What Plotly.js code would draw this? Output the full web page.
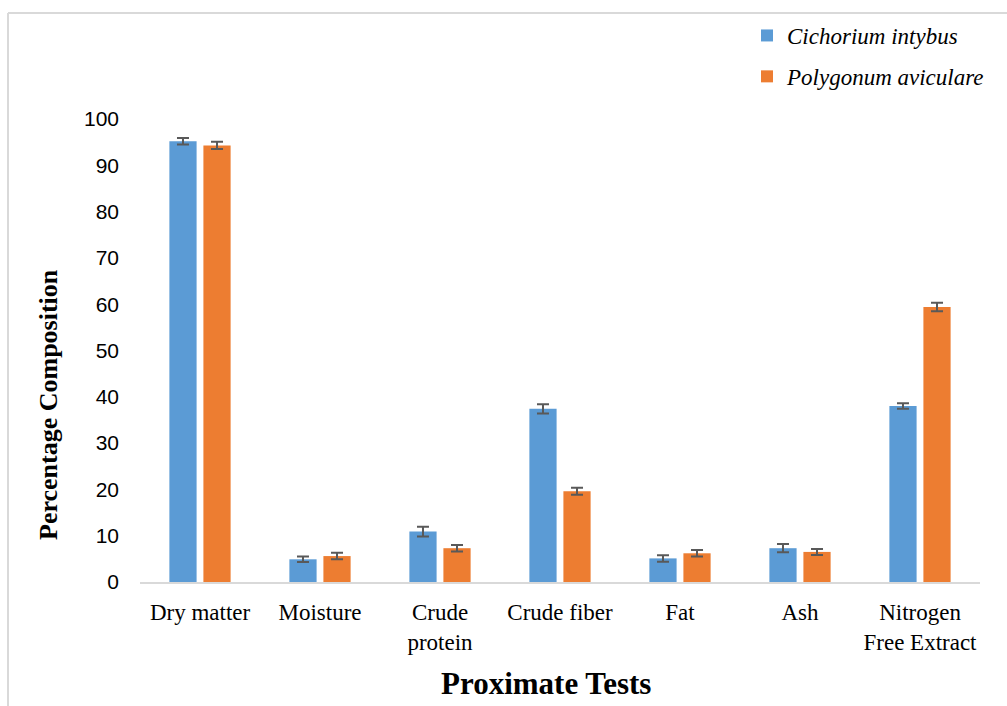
<!DOCTYPE html>
<html>
<head>
<meta charset="utf-8">
<script src="https://cdn.plot.ly/plotly-3.0.1.min.js"></script>
<style>html,body{margin:0;padding:0;background:#fff;}#chart{width:1007px;height:706px;}</style>
</head>
<body>
<div id="chart"></div>
<script>
const categories = ["Dry matter", "Moisture", "Crude<br>protein", "Crude fiber", "Fat", "Ash", "Nitrogen<br>Free Extract"];
const seriesNames = ["Cichorium intybus", "Polygonum aviculare"];
const cichoriumValues = [95.2, 4.9, 10.9, 37.4, 5.1, 7.3, 38.0];
const cichoriumErrors = [0.7, 0.6, 1.05, 1.0, 0.7, 0.9, 0.6];
const polygonumValues = [94.3, 5.6, 7.3, 19.6, 6.2, 6.5, 59.4];
const polygonumErrors = [0.8, 0.7, 0.7, 0.75, 0.7, 0.65, 0.9];
const yTickValues = [0, 10, 20, 30, 40, 50, 60, 70, 80, 90, 100];

const errStyle = (arr) => ({type: 'data', array: arr, visible: true, color: '#595959', thickness: 2, width: 6});

const traces = [
  {type: 'bar', name: '<i>' + seriesNames[0] + '</i>', x: categories, y: cichoriumValues, error_y: errStyle(cichoriumErrors),
   marker: {color: '#5B9BD5'}, legendgroup: 'a'},
  {type: 'bar', name: '<i>' + seriesNames[1] + '</i>', x: categories, y: polygonumValues, error_y: errStyle(polygonumErrors),
   marker: {color: '#ED7D31'}, legendgroup: 'b'}
];

const pxX = (p) => (p - 140) / 840;
const pxY = (p) => (582 - p) / 463;

const layout = {
  width: 1007, height: 706,
  margin: {l: 140, r: 27, t: 119, b: 124},
  paper_bgcolor: '#ffffff', plot_bgcolor: '#ffffff',
  barmode: 'group', bargap: 0.433, bargroupgap: 0.2,
  showlegend: true,
  legend: {x: pxX(747), xanchor: 'left', y: pxY(14), yanchor: 'top', traceorder: 'grouped', tracegroupgap: 8,
           font: {family: '"Liberation Serif", "Times New Roman", serif', size: 23, color: '#000', style: 'italic'},
           bgcolor: 'rgba(0,0,0,0)'},
  xaxis: {type: 'category', showline: true, linecolor: '#d9d9d9', linewidth: 2, showgrid: false, zeroline: false,
          ticks: '', ticklabelstandoff: 8,
          tickfont: {family: '"Liberation Serif", "Times New Roman", serif', size: 23, color: '#000'}},
  yaxis: {range: [0, 100], tickvals: yTickValues, ticktext: yTickValues.map(String), showgrid: false, zeroline: false,
          showline: false, ticks: '', ticklabelstandoff: 20,
          tickfont: {family: '"Liberation Sans", Arial, sans-serif', size: 21, color: '#000'}},
  annotations: [
    {text: '<b>Proximate Tests</b>', xref: 'paper', yref: 'paper', x: pxX(546), y: pxY(683), xanchor: 'center', yanchor: 'middle',
     showarrow: false, font: {family: '"Liberation Serif", "Times New Roman", serif', size: 31, color: '#000'}},
    {text: '<b>Percentage Composition</b>', xref: 'paper', yref: 'paper', x: pxX(48), y: pxY(405), xanchor: 'center', yanchor: 'middle',
     textangle: -90, showarrow: false, font: {family: '"Liberation Serif", "Times New Roman", serif', size: 26, color: '#000'}}
  ],
  shapes: [
    {type: 'line', xref: 'paper', yref: 'paper', x0: pxX(8), x1: pxX(1008), y0: pxY(13), y1: pxY(13), line: {color: '#d9d9d9', width: 2}},
    {type: 'line', xref: 'paper', yref: 'paper', x0: pxX(8), x1: pxX(8), y0: pxY(13), y1: pxY(707), line: {color: '#d9d9d9', width: 2}}
  ]
};

Plotly.newPlot('chart', traces, layout, {displayModeBar: false, staticPlot: true});
</script>
</body>
</html>
